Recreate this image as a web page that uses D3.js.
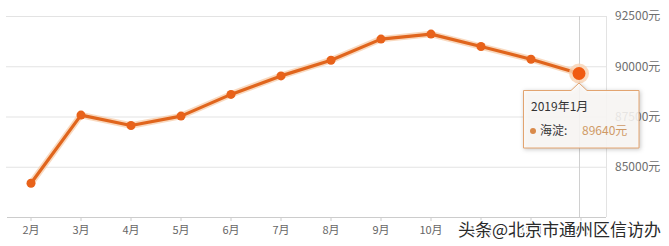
<!DOCTYPE html>
<html>
<head>
<meta charset="utf-8">
<script src="https://cdn.jsdelivr.net/npm/d3@7"></script>
<style>
  body { margin: 0; background: #fff; }
  svg { display: block; font-family: "Noto Sans CJK SC", "Noto Sans", sans-serif; }
</style>
</head>
<body>
<svg id="chart" width="669" height="246"></svg>
<script>
// month labels along the bottom
const months = ['2月', '3月', '4月', '5月', '6月', '7月', '8月', '9月', '10月', '11月', '12月', '1月']
// average price, 海淀 (元/㎡)
const prices = [84180, 87570, 87050, 87520, 88600, 89520, 90300, 91350, 91600, 90980, 90350, 89640]
const yTicks = [85000, 87500, 90000, 92500]
const tipTitle = '2019年1月'
const tipSeries = '海淀'
const watermark = '头条@北京市通州区信访办'

const lineColor = '#e0651d'
const svg = d3.select('#chart')
const plotL = 6, plotR = 606, plotT = 16, plotB = 217

const x = d3.scaleBand().domain(months).range([plotL, plotR])
const y = d3.scaleLinear().domain([82500, 92500]).range([plotB, plotT])

// grid
svg.append('g')
	.selectAll('line')
	.data(yTicks)
	.enter()
	.append('line')
	.attr('x1', plotL).attr('x2', plotR)
	.attr('y1', d => y(d) + 0.5).attr('y2', d => y(d) + 0.5)
	.attr('stroke', '#e3e3e3')
	.attr('stroke-width', 1)

// right border of plot
svg.append('line')
	.attr('x1', plotR + 0.5).attr('x2', plotR + 0.5)
	.attr('y1', plotT).attr('y2', plotB)
	.attr('stroke', '#e3e3e3')

// right axis labels
const yAxis = svg.append('g')
	.attr('transform', `translate(${plotR + 9},0)`)
	.call(d3.axisRight(y).tickValues(yTicks).tickSize(0).tickFormat(d => d + '元'))
yAxis.select('.domain').remove()
yAxis.selectAll('text')
	.attr('x', 0)
	.attr('fill', '#6f6f6f')
	.style('font-size', '12px')
	.style('font-family', '"Noto Sans CJK SC", sans-serif')

// bottom axis
const xAxis = svg.append('g')
	.attr('transform', `translate(0,${plotB})`)
	.call(d3.axisBottom(x).tickSize(4).tickPadding(5))
xAxis.select('.domain').attr('stroke', '#ccc').attr('d', `M${plotL + 1},0.5H${plotR}`)
xAxis.selectAll('.tick line').attr('stroke', '#ccc')
xAxis.selectAll('text')
	.attr('fill', '#666')
	.style('font-size', '11px')
	.style('font-family', '"Noto Sans CJK SC", sans-serif')

// crosshair on the active month
const active = months.length - 1
const ax = x(months[active]) + x.bandwidth() / 2 - 2
svg.append('line')
	.attr('x1', ax + 0.5).attr('x2', ax + 0.5)
	.attr('y1', plotT).attr('y2', plotB)
	.attr('stroke', '#d0d0d0')

const cx = (d, i) => x(months[i]) + x.bandwidth() / 2 - (i === active ? 2 : 0)
const line = d3.line()
	.x((d, i) => cx(d, i))
	.y(d => y(d))

// soft halo under the line
svg.append('path')
	.datum(prices)
	.attr('d', line)
	.attr('fill', 'none')
	.attr('stroke', '#f6c9a4')
	.attr('stroke-width', 6.5)
	.attr('stroke-linejoin', 'round')
	.attr('opacity', 0.7)

svg.append('path')
	.datum(prices)
	.attr('d', line)
	.attr('fill', 'none')
	.attr('stroke', lineColor)
	.attr('stroke-width', 3.2)
	.attr('stroke-linejoin', 'round')

// points
svg.append('g')
	.selectAll('circle')
	.data(prices.slice(0, active))
	.enter()
	.append('circle')
	.attr('cx', (d, i) => cx(d, i))
	.attr('cy', d => y(d))
	.attr('r', 4.5)
	.attr('fill', '#e8621a')

// highlighted point
const hx = cx(prices[active], active), hy = y(prices[active])
svg.append('circle')
	.attr('cx', hx).attr('cy', hy).attr('r', 10)
	.attr('fill', '#f9d2b2').attr('opacity', 0.8)
svg.append('circle')
	.attr('cx', hx).attr('cy', hy).attr('r', 6.5)
	.attr('fill', '#f05b12')

// tooltip
const tip = svg.append('g').attr('transform', 'translate(523,90)')
const tw = 116, th = 58, px = hx - 523
tip.append('path')
	.attr('d', `M0.5,0.5H${px - 8}L${px},-7L${px + 8},0.5H${tw}V${th}H0.5Z`)
	.attr('fill', '#fffdfa')
	.attr('fill-opacity', 0.85)
	.attr('stroke', '#e2a470')
	.attr('stroke-width', 1)
	.style('filter', 'drop-shadow(1px 1px 2px rgba(0,0,0,0.25))')
tip.append('text')
	.attr('x', 8).attr('y', 21)
	.attr('fill', '#333')
	.style('font-size', '12px')
	.text(tipTitle)
tip.append('circle')
	.attr('cx', 10).attr('cy', 41).attr('r', 3)
	.attr('fill', '#d98a4a')
tip.append('text')
	.attr('x', 17).attr('y', 45)
	.attr('fill', '#333')
	.style('font-size', '12px')
	.text(tipSeries + ':')
tip.append('text')
	.attr('x', 59).attr('y', 45)
	.attr('fill', '#cf9a66')
	.style('font-size', '12px')
	.text(prices[active] + '元')

// watermark
svg.append('text')
	.attr('x', 661).attr('y', 236)
	.attr('text-anchor', 'end')
	.attr('fill', '#2a2a2a')
	.attr('stroke', '#fff')
	.attr('stroke-width', 2.5)
	.attr('paint-order', 'stroke')
	.style('font-size', '17px')
	.text(watermark)
</script>
</body>
</html>
